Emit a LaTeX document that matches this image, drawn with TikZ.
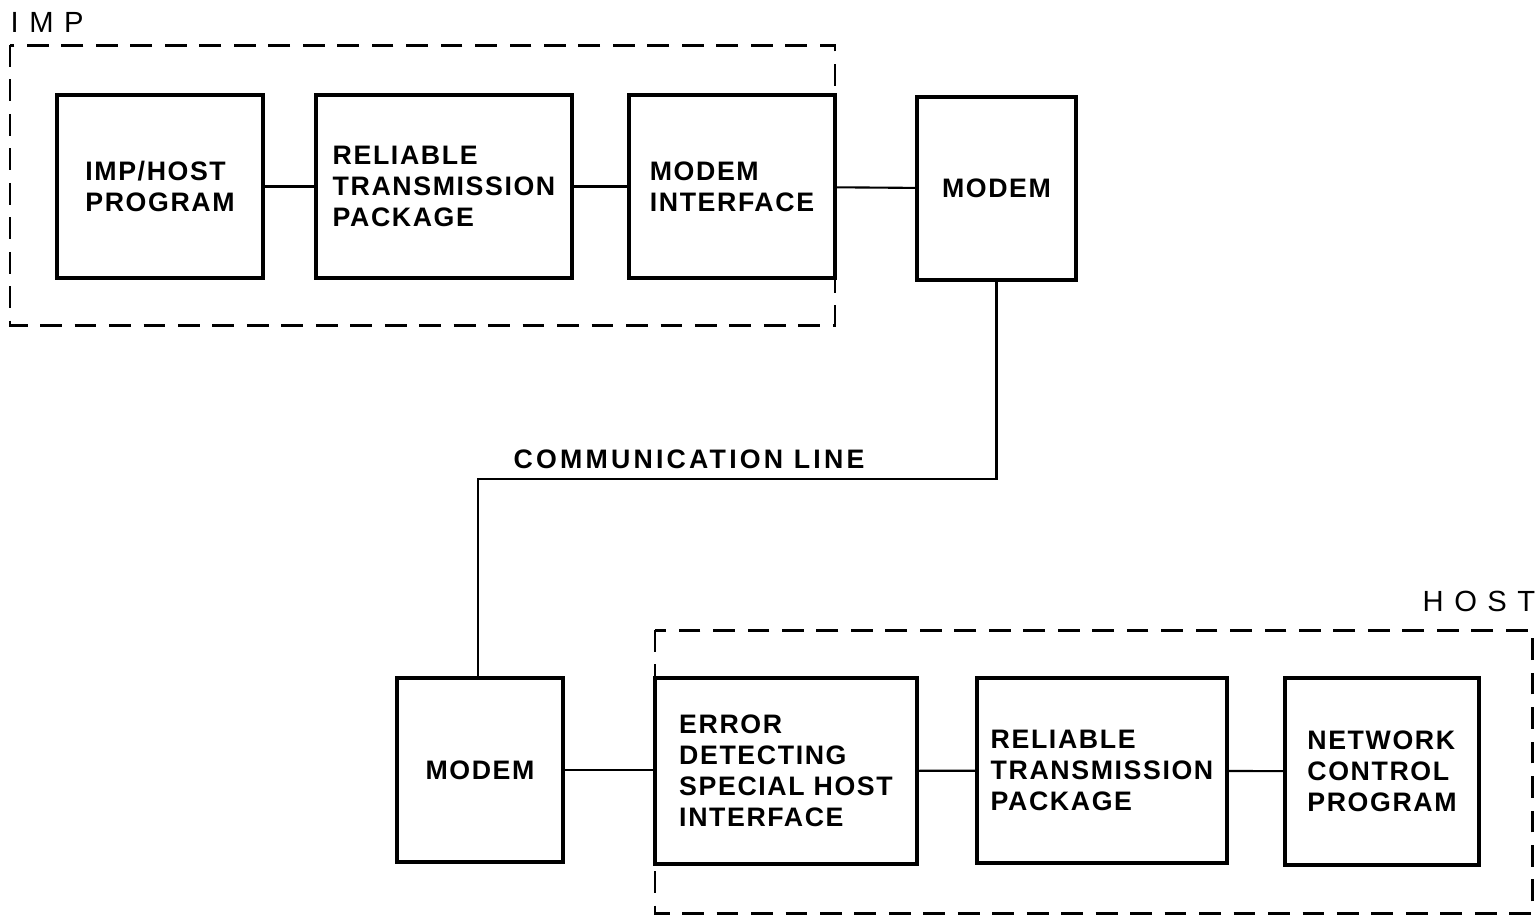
\documentclass[tikz,border=0pt]{standalone}
\usepackage{fontspec}
\setmainfont{Liberation Sans}
\newfontfamily\boxfont[LetterSpace=6]{Liberation Sans}
\newfontfamily\linefont[LetterSpace=12]{Liberation Sans}
\newfontfamily\tagfont[LetterSpace=36]{Liberation Sans}

\begin{document}
\begin{tikzpicture}[x=0.01cm,y=-0.01cm]
\useasboundingbox (0,0) rectangle (1538,917);
\tikzset{group/.style={line width=0.85pt, dash pattern=on 6.2pt off 3.6pt},
         wire/.style={line width=0.6pt}}
\draw[group] (10,45) rectangle (835,325);
\draw[group] (655,630) rectangle (1532,913);
\node (imptag) [anchor=west, inner sep=0pt, font=\tagfont\fontsize{8.3}{9}\selectfont] at (10,22) {IMP};
\node (hosttag) [anchor=east, inner sep=0pt, font=\tagfont\fontsize{8.3}{9}\selectfont] at (1536,601) {HOST};
 \begin{scope}[every node/.style={draw, line width=1pt, align=left, minimum height=1.83cm,
                                  font=\boxfont\bfseries\fontsize{7.6}{8.8}\selectfont}]
  \node (prog) [minimum width=2.06cm] at (160,186.5) {IMP/HOST\\PROGRAM};
  \node (rtpimp) [minimum width=2.56cm] at (444,186.5) {RELIABLE\\TRANSMISSION\\PACKAGE};
  \node (modemif) [minimum width=2.06cm] at (732,186.5) {MODEM\\INTERFACE};
  \node (modemtop) [minimum width=1.59cm] at (996.5,188.5) {MODEM};
  \node (modembot) [minimum width=1.66cm, minimum height=1.84cm] at (480,770) {MODEM};
  \node (errdet) [minimum width=2.62cm, minimum height=1.86cm] at (786,771) {ERROR\\DETECTING\\SPECIAL HOST\\INTERFACE};
  \node (rtphost) [minimum width=2.50cm, minimum height=1.85cm] at (1102,770.5) {RELIABLE\\TRANSMISSION\\PACKAGE};
  \node (ncp) [minimum width=1.94cm, minimum height=1.87cm] at (1382,771.5) {NETWORK\\CONTROL\\PROGRAM};
 \end{scope}
 \coordinate (turn) at (478,479);
 \node (commlabel) [inner sep=0pt, font=\linefont\bfseries\fontsize{7.6}{9}\selectfont] at (689,459) {COMMUNICATION LINE};
  \path [wire] (prog) edge (rtpimp);
  \path [wire] (rtpimp) edge (modemif);
  \path [wire] (modemif) edge (modemtop);
  \path [wire] (modembot.east) edge (modembot.east -| errdet.west);
  \path [wire] (errdet) edge (rtphost);
  \path [wire] (rtphost) edge (ncp);
  \draw [wire] (modemtop.south) |- (turn) -- (turn |- modembot.north);
\end{tikzpicture}
\end{document}
